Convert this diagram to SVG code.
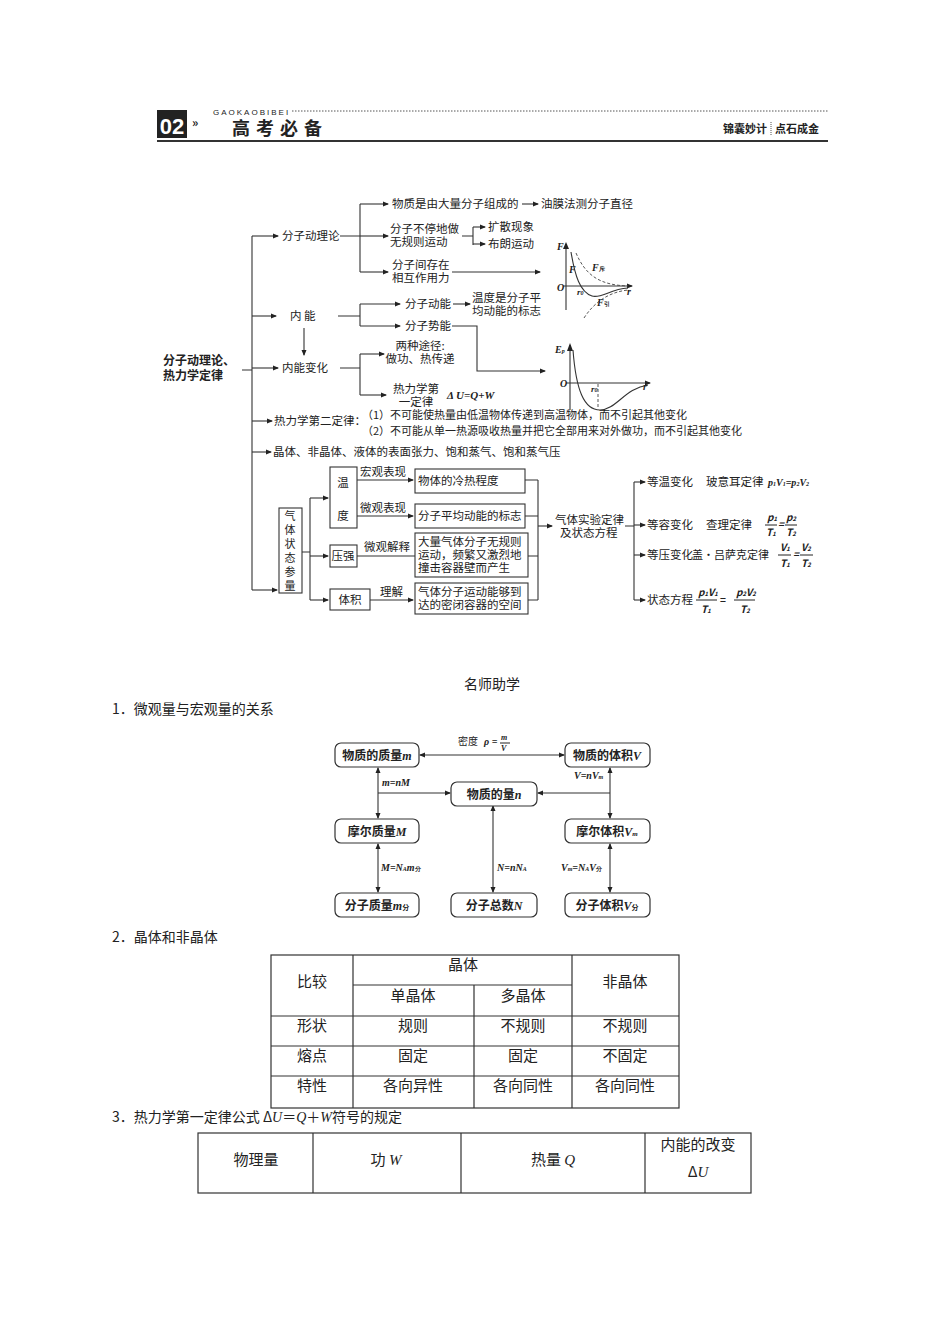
<svg xmlns="http://www.w3.org/2000/svg" width="950" height="1344" viewBox="0 0 950 1344">
<defs>
<marker id="a" markerWidth="6" markerHeight="6" refX="5" refY="3" orient="auto" markerUnits="userSpaceOnUse"><path d="M0,0.5 L6,3 L0,5.5 z" fill="#222"/></marker>
<marker id="s" markerWidth="6" markerHeight="6" refX="1" refY="3" orient="auto" markerUnits="userSpaceOnUse"><path d="M6,0.5 L0,3 L6,5.5 z" fill="#222"/></marker>
</defs>
<style>
text{font-family:"Noto Sans CJK SC","Liberation Sans",sans-serif;fill:#222}
.t{font-size:11.5px}
.b{font-size:12px;font-weight:bold}
.m{font-family:"Liberation Serif",serif;font-style:italic;font-weight:bold}
.n{font-size:14px}
.c{text-anchor:middle}
.ln{stroke:#333;stroke-width:1.1;fill:none}
.bx{stroke:#333;stroke-width:1.1;fill:#fff}
.rb{stroke:#333;stroke-width:1.2;fill:#fff}
.tb{stroke:#333;stroke-width:1.2;fill:none}
.d{stroke:#444;stroke-width:0.9;fill:none;stroke-dasharray:3,2}
</style>
<rect width="950" height="1344" fill="#fff"/>
<g id="header">
<rect x="157" y="110" width="30" height="28" fill="#222"/>
<text x="172" y="134" class="c" style="font-size:22px;font-weight:bold;fill:#fff;font-family:'Liberation Sans Narrow','Liberation Sans',sans-serif">02</text>
<text x="192" y="127" style="font-size:12px;font-weight:bold">»</text>
<text x="213" y="115" style="font-size:8px;letter-spacing:2px;font-family:'Liberation Sans',sans-serif">GAOKAOBIBEI</text>
<line x1="292" y1="111" x2="828" y2="111" stroke="#555" stroke-width="1" stroke-dasharray="1.5,1.5"/>
<text x="232" y="135" style="font-size:18px;font-weight:bold;letter-spacing:6px">高考必备</text>
<text x="723" y="133" style="font-size:11px;font-weight:bold">锦囊妙计</text>
<line x1="771" y1="122" x2="771" y2="136" stroke="#555" stroke-dasharray="1,1"/>
<text x="775" y="133" style="font-size:11px;font-weight:bold">点石成金</text>
<line x1="157" y1="141" x2="828" y2="141" stroke="#333" stroke-width="2"/>
</g>
<g id="connectors">
<path class="ln" d="M242,370 H252 M252,236 V590"/>
<path class="ln" marker-end="url(#a)" d="M252,236 H278"/>
<path class="ln" marker-end="url(#a)" d="M252,316 H276"/>
<path class="ln" marker-end="url(#a)" d="M252,368 H278"/>
<path class="ln" marker-end="url(#a)" d="M252,421 H272"/>
<path class="ln" marker-end="url(#a)" d="M252,452 H271"/>
<path class="ln" marker-end="url(#a)" d="M252,590 H277"/>
<path class="ln" d="M340,236 H360 M360,204 V272"/>
<path class="ln" marker-end="url(#a)" d="M360,204 H388"/>
<path class="ln" marker-end="url(#a)" d="M360,236 H388"/>
<path class="ln" marker-end="url(#a)" d="M360,272 H388"/>
<path class="ln" marker-end="url(#a)" d="M522,204 H538"/>
<path class="ln" d="M462,236 H473 M473,227 V245"/>
<path class="ln" marker-end="url(#a)" d="M473,227 H485"/>
<path class="ln" marker-end="url(#a)" d="M473,244 H485"/>
<path class="ln" marker-end="url(#a)" d="M452,272 H540"/>
<path class="ln" d="M338,316 H360 M360,304 V326"/>
<path class="ln" marker-end="url(#a)" d="M360,304 H400"/>
<path class="ln" marker-end="url(#a)" d="M360,326 H400"/>
<path class="ln" marker-end="url(#a)" d="M453,304 H470"/>
<path class="ln" marker-end="url(#a)" d="M452,326 H477 V371 H545"/>
<path class="ln" marker-end="url(#a)" d="M304,328 V355"/>
<path class="ln" d="M340,368 H360 M360,354 V395"/>
<path class="ln" marker-end="url(#a)" d="M360,354 H384"/>
<path class="ln" marker-end="url(#a)" d="M360,395 H386"/>
<path class="ln" d="M302,552 H310 M310,498 V600"/>
<path class="ln" marker-end="url(#a)" d="M310,498 H328"/>
<path class="ln" marker-end="url(#a)" d="M310,556 H328"/>
<path class="ln" marker-end="url(#a)" d="M310,600 H328"/>
<path class="ln" marker-end="url(#a)" d="M357,480 H413"/>
<path class="ln" marker-end="url(#a)" d="M357,516 H413"/>
<path class="ln" d="M357,556 H415"/>
<path class="ln" marker-end="url(#a)" d="M370,600 H413"/>
<path class="ln" d="M525,480 H538 M525,516 H538 M528,556 H538 M528,600 H538 M538,480 V600"/>
<path class="ln" marker-end="url(#a)" d="M538,526 H552"/>
<path class="ln" d="M625,526 H634 M634,482 V600"/>
<path class="ln" marker-end="url(#a)" d="M634,482 H645"/>
<path class="ln" marker-end="url(#a)" d="M634,525 H645"/>
<path class="ln" marker-end="url(#a)" d="M634,555 H645"/>
<path class="ln" marker-end="url(#a)" d="M634,600 H645"/>
</g>
<g id="root"><text x="163" y="365" class="b">分子动理论、</text><text x="163" y="380" class="b">热力学定律</text></g>
<g id="n1" class="t"><text x="282" y="240">分子动理论</text>
<text x="392" y="208">物质是由大量分子组成的</text><text x="541" y="208">油膜法测分子直径</text>
<text x="390" y="233">分子不停地做</text><text x="390" y="246">无规则运动</text>
<text x="488" y="231">扩散现象</text><text x="488" y="248">布朗运动</text>
<text x="392" y="269">分子间存在</text><text x="392" y="282">相互作用力</text></g>
<g id="n2" class="t"><text x="290" y="320">内  能</text>
<text x="405" y="308">分子动能</text><text x="472" y="302">温度是分子平</text><text x="472" y="315">均动能的标志</text>
<text x="405" y="330">分子势能</text></g>
<g id="n3" class="t"><text x="420" y="350" class="c">两种途径:</text><text x="420" y="363" class="c">做功、热传递</text>
<text x="282" y="372">内能变化</text>
<text x="416" y="393" class="c">热力学第</text><text x="416" y="406" class="c">一定律</text>
<text x="447" y="399" style="font-family:'Liberation Serif',serif;font-style:italic;font-weight:bold;font-size:11px">Δ U=Q+W</text></g>
<g id="graphF">
<path class="ln" d="M566,310 V244"/>
<path d="M563,249 L566,242 L569,249 z" fill="#222"/>
<path class="ln" marker-end="url(#a)" d="M563,286 H632"/>
<path class="ln" d="M571,252 C575,276 580,292 592,296 C601,299 610,289 628,288"/>
<path class="d" d="M576,253 C586,276 600,285 628,286"/>
<path class="d" d="M584,318 C595,301 610,292 628,290"/>
<text x="557" y="250" class="m" style="font-size:10px">F</text>
<text x="569" y="273" class="m" style="font-size:10px">F</text>
<text x="592" y="271" class="m" style="font-size:10px">F<tspan style="font-size:6px;font-style:normal">斥</tspan></text>
<text x="557" y="291" class="m" style="font-size:10px">O</text>
<text x="577" y="295" class="m" style="font-size:9px">r<tspan style="font-size:6px">0</tspan></text>
<text x="627" y="295" class="m" style="font-size:10px">r</text>
<text x="597" y="306" class="m" style="font-size:10px">F<tspan style="font-size:6px;font-style:normal">引</tspan></text>
</g>
<g id="graphEp">
<path class="ln" d="M570,410 V345"/>
<path d="M567,351 L570,343 L573,351 z" fill="#222"/>
<path class="ln" marker-end="url(#a)" d="M566,383 H650"/>
<path class="ln" d="M573,350 C576,390 584,410 600,410 C616,410 625,388 648,385"/>
<path class="d" d="M598,384 V409"/>
<text x="555" y="353" class="m" style="font-size:10px">E<tspan style="font-size:6px">p</tspan></text>
<text x="560" y="387" class="m" style="font-size:10px">O</text>
<text x="591" y="392" class="m" style="font-size:9px">r<tspan style="font-size:6px">0</tspan></text>
<text x="643" y="390" class="m" style="font-size:10px">r</text>
</g>
<g id="n4" class="t"><text x="274" y="425">热力学第二定律：</text>
<text x="362" y="419" style="font-size:11px">（1）不可能使热量由低温物体传递到高温物体，而不引起其他变化</text>
<text x="362" y="435" style="font-size:11px">（2）不可能从单一热源吸收热量并把它全部用来对外做功，而不引起其他变化</text></g>
<g id="n5" class="t"><text x="273" y="456">晶体、非晶体、液体的表面张力、饱和蒸气、饱和蒸气压</text></g>
<g id="gas" class="t">
<rect class="bx" x="279" y="508" width="23" height="85"/>
<g style="font-size:11px"><text x="290" y="520" class="c">气</text><text x="290" y="534" class="c">体</text><text x="290" y="548" class="c">状</text><text x="290" y="562" class="c">态</text><text x="290" y="576" class="c">参</text><text x="290" y="590" class="c">量</text></g>
<rect class="bx" x="330" y="467" width="27" height="61"/><text x="343" y="487" class="c">温</text><text x="343" y="520" class="c">度</text>
<rect class="bx" x="330" y="545" width="27" height="22"/><text x="343" y="560" class="c">压强</text>
<rect class="bx" x="330" y="589" width="40" height="21"/><text x="350" y="604" class="c">体积</text>
<text x="360" y="476">宏观表现</text><text x="360" y="512">微观表现</text><text x="364" y="551">微观解释</text><text x="380" y="596">理解</text>
<rect class="bx" x="415" y="469" width="110" height="24"/><text x="418" y="485">物体的冷热程度</text>
<rect class="bx" x="415" y="504" width="110" height="24"/><text x="418" y="520">分子平均动能的标志</text>
<rect class="bx" x="415" y="533" width="113" height="44"/><text x="418" y="546">大量气体分子无规则</text><text x="418" y="559">运动，频繁又激烈地</text><text x="418" y="572">撞击容器壁而产生</text>
<rect class="bx" x="415" y="583" width="113" height="31"/><text x="418" y="596">气体分子运动能够到</text><text x="418" y="609">达的密闭容器的空间</text>
<text x="555" y="524">气体实验定律</text><text x="560" y="537">及状态方程</text>
<text x="647" y="486">等温变化</text><text x="706" y="486">玻意耳定律</text>
<text x="768" y="486" class="m" style="font-size:10px">p<tspan style="font-size:6px">1</tspan>V<tspan style="font-size:6px">1</tspan>=p<tspan style="font-size:6px">2</tspan>V<tspan style="font-size:6px">2</tspan></text>
<text x="647" y="529">等容变化</text><text x="706" y="529">查理定律</text>
<g class="m" style="font-size:10px"><text x="767" y="521">p<tspan style="font-size:6px">1</tspan></text><line x1="765" y1="525" x2="777" y2="525" stroke="#222"/><text x="766" y="536">T<tspan style="font-size:6px">1</tspan></text><text x="778" y="528">=</text><text x="786" y="521">p<tspan style="font-size:6px">2</tspan></text><line x1="785" y1="525" x2="797" y2="525" stroke="#222"/><text x="786" y="536">T<tspan style="font-size:6px">2</tspan></text></g>
<text x="647" y="559">等压变化</text><text x="692" y="559" style="font-size:11px">盖·吕萨克定律</text>
<g class="m" style="font-size:10px"><text x="780" y="551">V<tspan style="font-size:6px">1</tspan></text><line x1="778" y1="555" x2="791" y2="555" stroke="#222"/><text x="780" y="567">T<tspan style="font-size:6px">1</tspan></text><text x="793" y="558">=</text><text x="801" y="551">V<tspan style="font-size:6px">2</tspan></text><line x1="800" y1="555" x2="813" y2="555" stroke="#222"/><text x="801" y="567">T<tspan style="font-size:6px">2</tspan></text></g>
<text x="647" y="604">状态方程</text>
<g class="m" style="font-size:10px"><text x="698" y="596">p<tspan style="font-size:6px">1</tspan>V<tspan style="font-size:6px">1</tspan></text><line x1="696" y1="600" x2="717" y2="600" stroke="#222"/><text x="701" y="613">T<tspan style="font-size:6px">1</tspan></text><text x="720" y="604" style="font-style:normal">=</text><text x="736" y="596">p<tspan style="font-size:6px">2</tspan>V<tspan style="font-size:6px">2</tspan></text><line x1="734" y1="600" x2="755" y2="600" stroke="#222"/><text x="740" y="613">T<tspan style="font-size:6px">2</tspan></text></g>
</g>
<g id="sec"><text x="492" y="689" class="n c">名师助学</text>
<text x="112" y="714" class="n">1．微观量与宏观量的关系</text></g>
<g id="connectors2">
<path class="ln" marker-start="url(#s)" marker-end="url(#a)" d="M420,755 H564"/>
<path class="ln" marker-start="url(#s)" marker-end="url(#a)" d="M378,768 V818"/>
<path class="ln" marker-end="url(#a)" d="M378,793 H450"/>
<path class="ln" marker-start="url(#s)" marker-end="url(#a)" d="M610,768 V818"/>
<path class="ln" marker-end="url(#a)" d="M610,793 H538"/>
<path class="ln" marker-start="url(#s)" marker-end="url(#a)" d="M493,806 V892"/>
<path class="ln" marker-start="url(#s)" marker-end="url(#a)" d="M378,844 V892"/>
<path class="ln" marker-start="url(#s)" marker-end="url(#a)" d="M610,844 V892"/>
</g>
<g id="labels2" style="font-size:10px">
<text x="458" y="745" style="font-size:10px">密度</text><text x="484" y="745" class="m">ρ =</text>
<text x="501" y="740" class="m" style="font-size:8px">m</text><line x1="500" y1="743" x2="510" y2="743" stroke="#222"/><text x="501" y="751" class="m" style="font-size:8px">V</text>
<text x="382" y="786" class="m">m=nM</text>
<text x="574" y="779" class="m">V=nV<tspan style="font-size:6px">m</tspan></text>
<text x="381" y="871" class="m">M=N<tspan style="font-size:6px">A</tspan>m<tspan style="font-size:6px;font-style:normal">分</tspan></text>
<text x="497" y="871" class="m">N=nN<tspan style="font-size:6px">A</tspan></text>
<text x="561" y="871" class="m">V<tspan style="font-size:6px">m</tspan>=N<tspan style="font-size:6px">A</tspan>V<tspan style="font-size:6px;font-style:normal">分</tspan></text>
</g>
<g id="b1"><rect class="rb" x="335" y="743" width="84" height="24" rx="6"/><text x="377" y="760" class="b c">物质的质量<tspan class="m">m</tspan></text></g>
<g id="b2"><rect class="rb" x="565" y="743" width="85" height="24" rx="6"/><text x="607" y="760" class="b c">物质的体积<tspan class="m">V</tspan></text></g>
<g id="b3"><rect class="rb" x="451" y="782" width="86" height="24" rx="6"/><text x="494" y="799" class="b c">物质的量<tspan class="m">n</tspan></text></g>
<g id="b4"><rect class="rb" x="335" y="819" width="84" height="24" rx="6"/><text x="377" y="836" class="b c">摩尔质量<tspan class="m">M</tspan></text></g>
<g id="b5"><rect class="rb" x="565" y="819" width="85" height="24" rx="6"/><text x="607" y="836" class="b c">摩尔体积<tspan class="m">V<tspan style="font-size:7px">m</tspan></tspan></text></g>
<g id="b6"><rect class="rb" x="335" y="893" width="84" height="24" rx="6"/><text x="377" y="910" class="b c">分子质量<tspan class="m">m</tspan><tspan style="font-size:7px">分</tspan></text></g>
<g id="b7"><rect class="rb" x="451" y="893" width="86" height="24" rx="6"/><text x="494" y="910" class="b c">分子总数<tspan class="m">N</tspan></text></g>
<g id="b8"><rect class="rb" x="565" y="893" width="85" height="24" rx="6"/><text x="607" y="910" class="b c">分子体积<tspan class="m">V</tspan><tspan style="font-size:7px">分</tspan></text></g>
<g id="table1" class="n">
<text x="112" y="942">2．晶体和非晶体</text>
<rect class="tb" x="271" y="955" width="408" height="153"/>
<path class="tb" d="M353,955 V1108 M572,955 V1108 M474,985 V1108 M353,985 H572 M271,1016 H679 M271,1046 H679 M271,1076 H679"/>
<g class="c" style="font-size:15px">
<text x="312" y="987">比较</text><text x="463" y="970">晶体</text><text x="625" y="987">非晶体</text>
<text x="413" y="1001">单晶体</text><text x="523" y="1001">多晶体</text>
<text x="312" y="1031">形状</text><text x="413" y="1031">规则</text><text x="523" y="1031">不规则</text><text x="625" y="1031">不规则</text>
<text x="312" y="1061">熔点</text><text x="413" y="1061">固定</text><text x="523" y="1061">固定</text><text x="625" y="1061">不固定</text>
<text x="312" y="1091">特性</text><text x="413" y="1091">各向异性</text><text x="523" y="1091">各向同性</text><text x="625" y="1091">各向同性</text>
</g>
</g>
<g id="table2" class="n">
<text x="112" y="1122">3．热力学第一定律公式 Δ<tspan style="font-style:italic;font-family:'Liberation Serif',serif">U</tspan>＝<tspan style="font-style:italic;font-family:'Liberation Serif',serif">Q</tspan>＋<tspan style="font-style:italic;font-family:'Liberation Serif',serif">W</tspan>符号的规定</text>
<rect class="tb" x="198" y="1133" width="553" height="60"/>
<path class="tb" d="M313,1133 V1193 M461,1133 V1193 M645,1133 V1193"/>
<g class="c" style="font-size:15px">
<text x="256" y="1165">物理量</text>
<text x="386" y="1165">功 <tspan style="font-style:italic;font-family:'Liberation Serif',serif">W</tspan></text>
<text x="553" y="1165">热量 <tspan style="font-style:italic;font-family:'Liberation Serif',serif">Q</tspan></text>
<text x="698" y="1150">内能的改变</text>
<text x="698" y="1177">Δ<tspan style="font-style:italic;font-family:'Liberation Serif',serif">U</tspan></text>
</g>
</g>
</svg>
